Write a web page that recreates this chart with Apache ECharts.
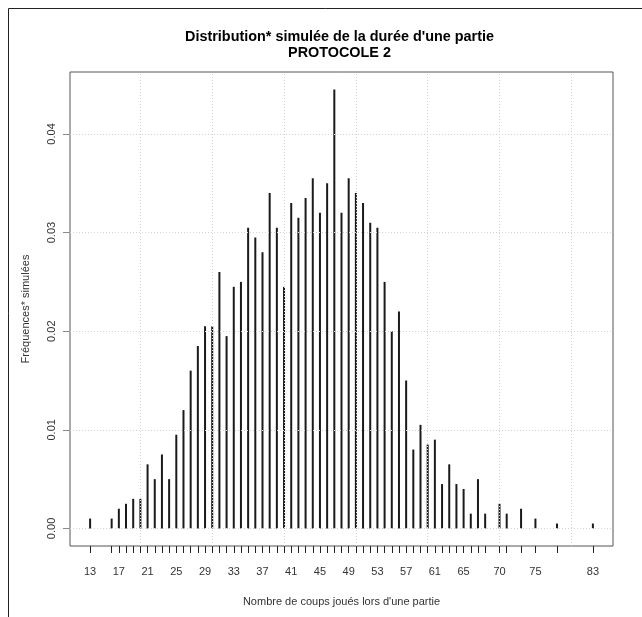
<!DOCTYPE html>
<html><head><meta charset="utf-8">
<script src="https://cdn.jsdelivr.net/npm/echarts@6/dist/echarts.min.js"></script>
<style>html,body{margin:0;padding:0;background:#fff}#c{width:642px;height:617px}</style>
</head><body><div id="c"></div>
<script>
// Observed number of moves (x) and simulated frequencies (y)
const coups = [13,16,17,18,19,20,21,22,23,24,25,26,27,28,29,30,31,32,33,34,35,36,37,38,39,40,
  41,42,43,44,45,46,47,48,49,50,51,52,53,54,55,56,57,58,59,60,61,62,63,64,65,66,67,68,70,71,73,75,78,83];
const freq = [0.001,0.001,0.002,0.0025,0.003,0.003,0.0065,0.005,0.0075,0.005,0.0095,0.012,0.016,0.0185,0.0205,0.0205,
  0.026,0.0195,0.0245,0.025,0.0305,0.0295,0.028,0.034,0.0305,0.0245,
  0.033,0.0315,0.0335,0.0355,0.032,0.035,0.0445,0.032,0.0355,0.034,0.033,0.031,0.0305,0.025,0.02,0.022,
  0.015,0.008,0.0105,0.0085,0.009,0.0045,0.0065,0.0045,0.004,0.0015,0.005,0.0015,0.0025,0.0015,0.002,0.001,0.0005,0.0005];
const xLabels = [13,17,21,25,29,33,37,41,45,49,53,57,61,65,70,75,83];
const yTicks = [0,0.01,0.02,0.03,0.04];
const xGrid = [20,30,40,50,60,70,80];

const chart = echarts.init(document.getElementById('c'), null, {renderer:'canvas'});
const font = 'Liberation Sans, Arial, sans-serif';
chart.setOption({
  backgroundColor:'#fff',
  animation:false,
  title:{
    text:"Distribution* simulée de la durée d'une partie\nPROTOCOLE 2",
    left:334.5, top:24, textAlign:'center',
    textStyle:{fontFamily:font,fontSize:14.4,fontWeight:'bold',color:'#000',lineHeight:16}
  },
  graphic:[{type:'rect',shape:{x:8.5,y:8.5,width:800,height:800},style:{fill:'none',stroke:'#222',lineWidth:1},silent:true}],
  grid:{left:70,right:29,top:72,bottom:71,show:true,borderColor:'#555',borderWidth:1,backgroundColor:'transparent'},
  xAxis:{
    type:'value',min:10.2,max:85.8,
    name:"Nombre de coups joués lors d'une partie",nameLocation:'middle',nameGap:50,
    nameTextStyle:{fontFamily:font,fontSize:11,color:'#333'},
    axisLine:{show:false,onZero:false},
    splitLine:{show:false},
    axisTick:{show:true,customValues:coups,length:7,lineStyle:{color:'#222',width:1}},
    axisLabel:{customValues:xLabels,margin:20,fontFamily:font,fontSize:11,color:'#333'}
  },
  yAxis:{
    type:'value',min:-0.00178,max:0.04628,
    name:'Fréquences* simulées',nameLocation:'middle',nameGap:39,nameRotate:90,
    nameTextStyle:{fontFamily:font,fontSize:11,color:'#333'},
    axisLine:{show:false,onZero:false},
    splitLine:{show:false},
    axisTick:{show:true,customValues:yTicks,length:7,lineStyle:{color:'#888',width:1}},
    axisLabel:{customValues:yTicks,rotate:90,margin:13,fontFamily:font,fontSize:11,color:'#333',
      formatter:v=>v.toFixed(2)}
  },
  series:[
    {type:'bar',data:coups.map((x,i)=>[x,freq[i]]),barWidth:2,itemStyle:{color:'#1a1a1a'},z:2,silent:true},
    {type:'scatter',data:[],z:5,silent:true,
      markLine:{silent:true,symbol:['none','none'],label:{show:false},
        lineStyle:{color:'#d3d3d3',type:[1,2],width:1},
        data:xGrid.map(v=>({xAxis:v})).concat(yTicks.map(v=>({yAxis:v})))}}
  ]
});
</script></body></html>
